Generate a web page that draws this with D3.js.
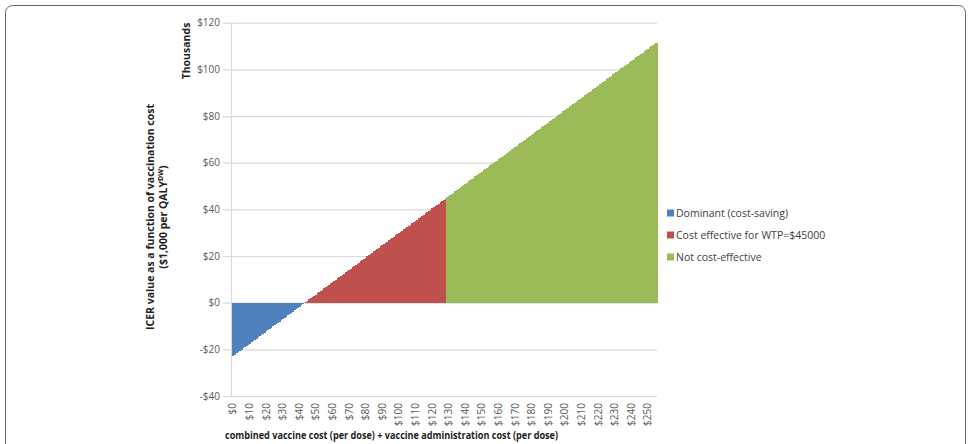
<!DOCTYPE html>
<html>
<head>
<meta charset="utf-8">
<script src="https://cdn.jsdelivr.net/npm/d3@7"></script>
<style>
  html, body { margin: 0; padding: 0; background: #fff; }
  svg { display: block; font-family: "Open Sans", "Liberation Sans", sans-serif; }
</style>
</head>
<body>
<svg id="chart" width="971" height="444"></svg>
<script>
// ICER (thousands of $ per QALY) for each combined cost per dose, $0 .. $255
const icer = [
  -22.8, -22.3, -21.7, -21.2, -20.7, -20.2, -19.6, -19.1, -18.6, -18.1,
  -17.5, -17.0, -16.5, -16.0, -15.4, -14.9, -14.4, -13.8, -13.3, -12.8,
  -12.3, -11.7, -11.2, -10.7, -10.2, -9.6, -9.1, -8.6, -8.1, -7.5,
  -7.0, -6.5, -6.0, -5.4, -4.9, -4.4, -3.8, -3.3, -2.8, -2.3,
  -1.7, -1.2, -0.7, -0.2, 0.4, 0.9, 1.4, 1.9, 2.5, 3.0,
  3.5, 4.1, 4.6, 5.1, 5.6, 6.2, 6.7, 7.2, 7.7, 8.3,
  8.8, 9.3, 9.8, 10.4, 10.9, 11.4, 11.9, 12.5, 13.0, 13.5,
  14.1, 14.6, 15.1, 15.6, 16.2, 16.7, 17.2, 17.7, 18.3, 18.8,
  19.3, 19.8, 20.4, 20.9, 21.4, 22.0, 22.5, 23.0, 23.5, 24.1,
  24.6, 25.1, 25.6, 26.2, 26.7, 27.2, 27.7, 28.3, 28.8, 29.3,
  29.9, 30.4, 30.9, 31.4, 32.0, 32.5, 33.0, 33.5, 34.1, 34.6,
  35.1, 35.6, 36.2, 36.7, 37.2, 37.7, 38.3, 38.8, 39.3, 39.9,
  40.4, 40.9, 41.4, 42.0, 42.5, 43.0, 43.5, 44.1, 44.6, 45.1,
  45.6, 46.2, 46.7, 47.2, 47.8, 48.3, 48.8, 49.3, 49.9, 50.4,
  50.9, 51.4, 52.0, 52.5, 53.0, 53.5, 54.1, 54.6, 55.1, 55.6,
  56.2, 56.7, 57.2, 57.8, 58.3, 58.8, 59.3, 59.9, 60.4, 60.9,
  61.4, 62.0, 62.5, 63.0, 63.5, 64.1, 64.6, 65.1, 65.7, 66.2,
  66.7, 67.2, 67.8, 68.3, 68.8, 69.3, 69.9, 70.4, 70.9, 71.4,
  72.0, 72.5, 73.0, 73.5, 74.1, 74.6, 75.1, 75.7, 76.2, 76.7,
  77.2, 77.8, 78.3, 78.8, 79.3, 79.9, 80.4, 80.9, 81.4, 82.0,
  82.5, 83.0, 83.6, 84.1, 84.6, 85.1, 85.7, 86.2, 86.7, 87.2,
  87.8, 88.3, 88.8, 89.3, 89.9, 90.4, 90.9, 91.5, 92.0, 92.5,
  93.0, 93.6, 94.1, 94.6, 95.1, 95.7, 96.2, 96.7, 97.2, 97.8,
  98.3, 98.8, 99.3, 99.9, 100.4, 100.9, 101.5, 102.0, 102.5, 103.0,
  103.6, 104.1, 104.6, 105.1, 105.7, 106.2, 106.7, 107.2, 107.8, 108.3,
  108.8, 109.4, 109.9, 110.4, 110.9, 111.5
];
const costs = icer.map((_, i) => i);           // $ per dose, one category each
const xTickValues = [0, 10, 20, 30, 40, 50, 60, 70, 80, 90, 100, 110, 120, 130,
  140, 150, 160, 170, 180, 190, 200, 210, 220, 230, 240, 250];
const xTickLabels = ["$0", "$10", "$20", "$30", "$40", "$50", "$60", "$70", "$80", "$90",
  "$100", "$110", "$120", "$130", "$140", "$150", "$160", "$170", "$180", "$190",
  "$200", "$210", "$220", "$230", "$240", "$250"];
const yTickValues = [-40, -20, 0, 20, 40, 60, 80, 100, 120];
const yTickLabels = ["-$40", "-$20", "$0", "$20", "$40", "$60", "$80", "$100", "$120"];
const wtp = 45; // thousand $ per QALY
const seriesNames = ["Dominant (cost-saving)", "Cost effective for WTP=$45000", "Not cost-effective"];
const seriesColors = ["#4f81bd", "#c0504d", "#9bbb59"];

const svg = d3.select("#chart");

// outer frame
svg.append("rect")
  .attr("x", 5.5).attr("y", 5.5).attr("width", 960).attr("height", 470)
  .attr("rx", 7).attr("ry", 7)
  .attr("fill", "none").attr("stroke", "#666").attr("stroke-width", 1);

const plot = { left: 232, right: 657, top: 22.7, bottom: 396 };

const x = d3.scaleBand().domain(costs).range([plot.left, plot.right]).padding(0);
const y = d3.scaleLinear().domain([-40, 120]).range([plot.bottom, plot.top]);

// gridlines (extend slightly left of the axis as tick marks)
svg.append("g")
  .attr("transform", `translate(${plot.right},0)`)
  .call(d3.axisLeft(y).tickValues(yTickValues).tickSize(plot.right - plot.left + 9).tickFormat(""))
  .call(g => g.select(".domain").remove())
  .call(g => g.selectAll("line").attr("stroke", "#d9d9d9").attr("stroke-width", 1.2));

// y tick labels
svg.append("g")
  .attr("transform", `translate(${plot.left - 10},0)`)
  .call(d3.axisLeft(y).tickValues(yTickValues).tickFormat((d, i) => yTickLabels[i]).tickSize(0).tickPadding(2))
  .call(g => g.select(".domain").remove())
  .call(g => g.selectAll("text")
    .attr("fill", "#595959").attr("font-size", "10px")
    .attr("font-family", "'Open Sans', sans-serif"));

// vertical axis line
svg.append("line")
  .attr("x1", plot.left - 0.5).attr("x2", plot.left - 0.5)
  .attr("y1", plot.top).attr("y2", plot.bottom)
  .attr("stroke", "#d9d9d9").attr("stroke-width", 1.2);

// bars
function colorFor(v) {
  if (v < 0) return seriesColors[0];
  if (v <= wtp) return seriesColors[1];
  return seriesColors[2];
}
svg.append("g").attr("shape-rendering", "crispEdges").selectAll("rect")
  .data(costs)
  .join("rect")
  .attr("x", d => x(d))
  .attr("width", x.bandwidth() + 0.6)
  .attr("y", d => y(Math.max(0, icer[d])))
  .attr("height", d => Math.abs(y(icer[d]) - y(0)))
  .attr("fill", d => colorFor(icer[d]));

// x axis labels
const xAxis = d3.axisBottom(x)
  .tickValues(xTickValues)
  .tickFormat((d, i) => xTickLabels[i])
  .tickSize(0)
  .tickPadding(0);
svg.append("g")
  .attr("transform", `translate(0,${plot.bottom})`)
  .call(xAxis)
  .call(g => g.select(".domain").remove())
  .call(g => g.selectAll("text")
    .attr("fill", "#595959").attr("font-size", "10px")
    .attr("font-family", "'Open Sans', sans-serif")
    .attr("text-anchor", "end")
    .attr("dy", "0.35em")
    .attr("transform", "translate(0,7) rotate(-90)")
    .attr("x", 0).attr("y", 0));

// axis titles
svg.append("text")
  .attr("transform", "translate(190,51) rotate(-90)")
  .attr("text-anchor", "middle")
  .attr("font-size", "10.5px").attr("font-weight", "bold").attr("fill", "#222")
  .text("Thousands");

const ytitle = svg.append("text")
  .attr("transform", "rotate(-90)")
  .attr("text-anchor", "middle")
  .attr("font-size", "10.5px").attr("font-weight", "bold").attr("fill", "#222");
ytitle.append("tspan").attr("x", -217).attr("y", 154)
  .text("ICER value as a function of vaccination cost");
const l2 = ytitle.append("tspan").attr("x", -217).attr("y", 167);
l2.append("tspan").text("($1,000 per QALY");
l2.append("tspan").attr("font-size", "7px").attr("dy", "-4").text("DW");
l2.append("tspan").attr("dy", "4").text(")");

svg.append("text")
  .attr("x", 225).attr("y", 439)
  .attr("font-size", "10.5px").attr("font-weight", "bold").attr("fill", "#222")
  .attr("textLength", 333).attr("lengthAdjust", "spacingAndGlyphs")
  .text("combined vaccine cost (per dose) + vaccine administration cost (per dose)");

// legend
const legend = svg.append("g").attr("transform", "translate(667,213)");
seriesNames.forEach((name, i) => {
  const g = legend.append("g").attr("transform", `translate(0,${i * 22})`);
  g.append("rect").attr("x", 0).attr("y", -3.5).attr("width", 7).attr("height", 7)
    .attr("fill", seriesColors[i]);
  g.append("text").attr("x", 9).attr("y", 0).attr("dy", "0.35em")
    .attr("font-size", "10.5px").attr("fill", "#404040")
    .text(name);
});
</script>
</body>
</html>
